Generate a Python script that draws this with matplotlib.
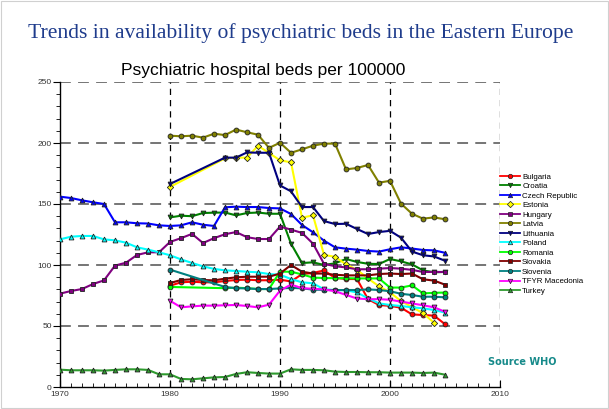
import numpy as np
import matplotlib
matplotlib.use('Agg')
import matplotlib.pyplot as plt
from matplotlib.lines import Line2D
from matplotlib.patches import Rectangle

plt.rcParams['font.family'] = ['Liberation Sans', 'DejaVu Sans']

years = list(range(1970, 2006))
N = None

# values per 100000, one entry per year 1970..2005 (None = no data)
bulgaria = [N]*10 + [83, 85.8, 86.3, 85.8, 85.8, 86.9, 87.7, 88, 87.5, 87.5,
                     88, 86.5, 92.5, 93.5, 95.5, 89.5, 88.5, 88.5, 72, 67.2,
                     66.5, 65, 59.5, 59, 58.5, 51.5]
croatia = [N]*10 + [139, 140.4, 140, 142.6, 142.9, 143, 140.7, 142.6, 143, 142,
                    142, 117.5, 101.6, 102.2, 100, 101.4, 104.9, 102.5, 101, 100.8,
                    104.9, 103, 100.5, 95.6, 94, 94.3]
czech = [156, 154.9, 153, 151.4, 150, 135, 135, 134.2, 134, 132.5,
         132, 132.5, 135, 133, 132, 147.3, 147.8, 147.5, 147.5, 146.7,
         146.4, 141.8, 132.8, 126.8, 120, 114.5, 113.4, 112.6, 111.5, 111,
         112.9, 114.5, 113.5, 112.3, 112, 110]
estonia = [N]*10 + [164, N, N, N, N, 187.4, 188, 188, 197.8, 191.8,
                    185.8, 184.2, 138.8, 140.7, 108.3, 106.7, 100.5, 96, 89, 82.5,
                    77.5, 70.5, 65.5, 60.5, 52.7, N]
hungary = [76.5, 78.7, 80.3, 84.4, 87.4, 99.5, 101.9, 108.2, 110.4, 110.4,
           118.9, 122, 125.5, 118, 122, 125.2, 127, 122.8, 121.3, 121.3,
           131.5, 129, 126.3, 117.5, 101, 99, 98, 96.5, 96.5, 97,
           97.5, 97, 96, 94.3, 94.3, 94.3]
latvia = [N]*10 + [206, 205.5, 206, 204.4, 207.6, 206.5, 211, 208.8, 206.8, 196,
                   200.2, 192, 194.8, 197.8, 199.5, 199.5, 178.4, 179.5, 182, 167.5,
                   169, 150.3, 142, 138, 139, 137.5]
lithuania = [N]*10 + [166.4, N, N, N, N, 188, 188, 192.3, 192, 192,
                      165.2, 160.4, 147.5, 147.5, 136, 133.6, 133.8, 129.5, 125.4, 127,
                      128, 122.4, 111, 108, 107, 103.5]
poland = [121, 123.2, 123.8, 123.8, 121, 120.2, 118.3, 114.5, 112.6, 110.4,
          108, 104.6, 101.7, 98.9, 96.8, 95.6, 95.1, 94.5, 94, 92.6,
          92, 88.5, 85.8, 85, 80, 79.5, 79.3, 77.5, 72.7, 68.6,
          67.2, 66.4, 65.3, 64.5, 63.1, 61]
romania = [N]*10 + [82, N, N, N, N, 81, 81.4, 81, 80.3, 80.3,
                    94.5, 94.5, 92.3, 89.7, 89.3, 89.2, 89.2, 89, 89, 89,
                    81.5, 81.5, 83.3, 76.7, 77.2, 77.4]
slovakia = [N]*10 + [85.2, 87.7, 88.3, 87.7, 87.4, 88.8, 89.9, 90.4, 90.4, 90.4,
                     93, 100, 94.5, 93, 93, 92, 91.5, 91.5, 91.5, 92.6,
                     93, 92.6, 93, 88.3, 87.2, 83.9]
slovenia = [N]*10 + [96.2, N, N, N, N, 82, 81, 80.8, 80.3, 80.3,
                     80.8, 81.2, 80.9, 79.8, 79.6, 79.4, 79.5, 79.5, 80, 79.5,
                     78.5, 76.4, 75.4, 74, 74, 73.5]
macedonia = [N]*10 + [70.7, 65.3, 66.1, 66.7, 66.7, 67, 67.2, 66.4, 65.3, 67.5,
                      79, 84, 81, 80.5, 80, 78.5, 75.5, 72.5, 72, 72,
                      71.5, 70, 68.5, 67, 65.3, 61.7]
turkey = [14.2, 13.7, 13.7, 13.7, 13.4, 14.0, 14.5, 14.5, 14.0, 10.4,
          10.4, 6.6, 6.3, 7.1, 7.9, 8.2, 10.7, 12.1, 11.5, 11.0,
          11.0, 14.5, 14.0, 14.0, 13.7, 12.6, 12.3, 12.3, 12.1, 12.1,
          11.8, 11.8, 11.8, 11.5, 11.8, 10.1]

names = ['Bulgaria', 'Croatia', 'Czech Republic', 'Estonia', 'Hungary', 'Latvia',
         'Lithuania', 'Poland', 'Romania', 'Slovakia', 'Slovenia',
         'TFYR Macedonia', 'Turkey']
series = [bulgaria, croatia, czech, estonia, hungary, latvia, lithuania,
          poland, romania, slovakia, slovenia, macedonia, turkey]
colors = ['#ff0000', '#008000', '#0000ff', '#ffff00', '#800080', '#808000',
          '#000080', '#00ffff', '#00ff00', '#800000', '#008080', '#ff00ff',
          '#2e9a2e']
markers = ['o', 'v', '^', 'D', 's', 'o', 'v', '^', 'o', 's', 'o', 'v', '^']

fig = plt.figure(figsize=(6.09, 4.09), dpi=100)
fig.patches.append(Rectangle((0.002, 0.002), 0.996, 0.996, transform=fig.transFigure,
                             fill=False, edgecolor='#d0d0d0', linewidth=0.8))

fig.text(0.046, 1 - 33/409, 'Trends in availability of psychiatric beds in the Eastern Europe',
         family='Liberation Serif', fontsize=15.6, color='#1f3c8c', va='center')

ax = fig.add_axes([60/609, 22/409, 440/609, 305/409])
ax.set_xlim(1970, 2010)
ax.set_ylim(0, 250)

# grid
for yv in [50, 100, 150, 200, 250]:
    ax.plot([1970, 2010], [yv, yv], color='#6a6a6a', lw=1.3, dashes=(6, 4), zorder=1)
for xv in [1980, 1990, 2000, 2010]:
    ax.plot([xv, xv], [0, 250], color='black', lw=0.9, dashes=(5, 4), zorder=1)

yrs = np.array(years)
for name, vals, c, m in zip(names, series, colors, markers):
    v = np.array([np.nan if x is None else x for x in vals], dtype=float)
    ok = ~np.isnan(v)
    ms = 3.2 if m == 'D' else 3.5
    ax.plot(yrs[ok], v[ok], color=c, lw=1.5, marker=m, ms=ms, mfc=c,
            mec='#222222', mew=0.6, label=name, zorder=3)

fig.text(263/609, 1 - 70/409, 'Psychiatric hospital beds per 100000', fontsize=12.5,
         ha='center', va='center')

for s in ['top', 'right']:
    ax.spines[s].set_visible(False)
ax.spines['left'].set_linewidth(1.0)
ax.spines['bottom'].set_linewidth(1.0)

ax.set_xticks([1970, 1980, 1990, 2000, 2010])
ax.set_xticks(range(1970, 2011), minor=True)
ax.set_yticks([0, 50, 100, 150, 200, 250])
ax.set_yticks(range(0, 251, 10), minor=True)
ax.tick_params(axis='x', which='major', direction='in', length=5, labelsize=6,
               labelcolor='#333333', pad=3)
ax.tick_params(axis='x', which='minor', direction='in', length=3)
ax.tick_params(axis='y', which='major', direction='out', length=5, labelsize=6,
               labelcolor='#333333', pad=1)
ax.tick_params(axis='y', which='minor', direction='out', length=3)

handles = [Line2D([], [], color=c, lw=1.3, marker=m, ms=3.2, mfc=c, mec='#222222', mew=0.5)
           for c, m in zip(colors, markers)]
fig.legend(handles, names, loc='upper left', bbox_to_anchor=(500/609, 1 - 173/409),
           frameon=False, fontsize=5.7, handlelength=2.5, handletextpad=0.3,
           labelspacing=0.25, borderpad=0, borderaxespad=0)

fig.text(488/609, 1 - 362/409, 'Source WHO', fontsize=7, fontweight='bold',
         color='#168a8a', va='center', family='DejaVu Sans')

fig.savefig('out.png', dpi=100)
